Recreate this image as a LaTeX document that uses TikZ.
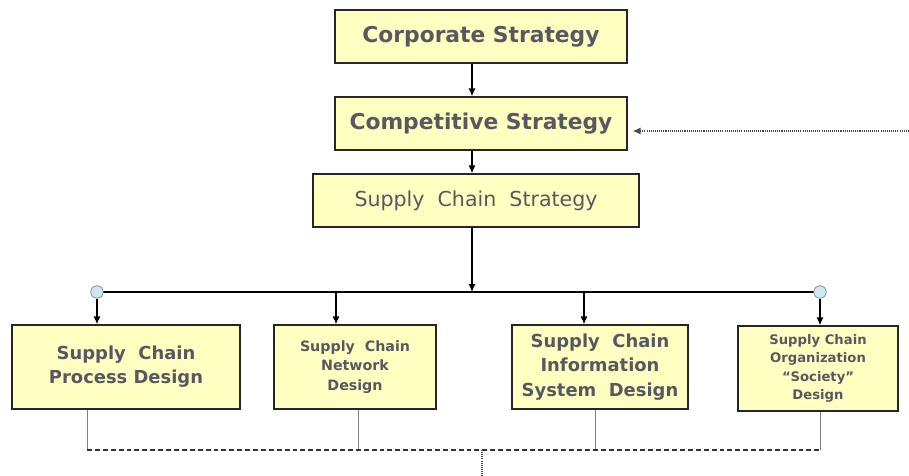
\documentclass[tikz,border=0pt]{standalone}
\usepackage{fontspec}
\setmainfont{DejaVu Sans}
\usetikzlibrary{arrows.meta}
\definecolor{boxyellow}{RGB}{255,255,194}
\definecolor{boxtext}{RGB}{88,88,98}
\definecolor{dotblue}{RGB}{205,232,242}

\begin{document}
\begin{tikzpicture}[x=0.02cm, y=-0.02cm,
    box/.style={draw=black!85, line width=0.8pt, fill=boxyellow, text=boxtext,
        align=center, inner sep=0pt, minimum height=1.68cm},
    arr/.style={-{Latex[length=4.5pt,width=4pt]}, line width=0.7pt},
    dot/.style={circle, draw=gray, fill=dotblue, minimum size=0.25cm, inner sep=0pt},
    link/.style={gray, line width=0.5pt},
    loopback/.style={black!80, line width=0.7pt, dash pattern=on 2.8pt off 1.7pt},
    hint/.style={black!70, line width=0.6pt, dash pattern=on 0.6pt off 0.6pt}]
    \useasboundingbox (0,0) rectangle (909,476);

    % Strategy levels
    \node[box, minimum width=5.84cm, minimum height=1.06cm, font=\fontsize{12.4}{15}\selectfont\bfseries] (corp) at (481,36.5) {Corporate Strategy};
    \node[box, minimum width=5.84cm, minimum height=1.06cm, font=\fontsize{12.4}{15}\selectfont\bfseries] (comp) at (481,123.5) {Competitive Strategy};
    \node[box, minimum width=6.52cm, minimum height=1.06cm, font=\fontsize{11.7}{14}\selectfont] (scs) at (476,200.5) {Supply\ \ Chain\ \ Strategy};

    % Design areas
    \node[box, minimum width=4.56cm, font=\fontsize{10.2}{13.6}\selectfont\bfseries] (pd) at (126,367) {Supply\ \ Chain\\Process Design};
    \node[box, minimum width=3.24cm, font=\fontsize{8.1}{11.3}\selectfont\bfseries] (nd) at (355,367) {Supply\ \ Chain\\Network\\Design};
    \node[box, minimum width=3.52cm, font=\fontsize{10.2}{13.9}\selectfont\bfseries] (isd) at (600,367) {Supply\ \ Chain\\Information\\System\ \ Design};
    \node[box, minimum width=3.2cm, minimum height=1.7cm, font=\fontsize{7.5}{10.5}\selectfont\bfseries] (od) at (818,368.5) {Supply Chain\\Organization\\“Society”\\Design};

    % Distribution bus
    \coordinate (spine) at (472,292);
    \coordinate (t2) at (336,292);
    \coordinate (t3) at (584,292);
    \draw[line width=0.7pt] (97,292) -- (820,292);
    \node[dot] (dl) at (97,292) {};
    \node[dot] (dr) at (820,292) {};

    % Top-down arrows
    \draw[arr] (corp.south -| spine) -- (comp.north -| spine);
    \draw[arr] (comp.south -| spine) -- (scs.north -| spine);
    \draw[arr] (scs.south -| spine) -- (spine);
    \draw[arr] (dl) -- (dl |- pd.north);
    \draw[arr] (t2) -- (t2 |- nd.north);
    \draw[arr] (t3) -- (t3 |- isd.north);
    \draw[arr] (dr) -- (dr |- od.north);

    % Feedback lines
    \coordinate (f1) at (87,450);
    \coordinate (f2) at (358,450);
    \coordinate (f3) at (595,450);
    \coordinate (f4) at (820,450);
    \coordinate (fb) at (482,450);
    \coordinate (fbend) at (482,476);
    \coordinate (fin) at (909,131);
    \foreach \b/\f in {pd/f1, nd/f2, isd/f3, od/f4}
        \draw[link] (\f |- \b.south) -- (\f);
    \draw[loopback] (f1) -- (f4);
    \draw[hint] (fb) -- (fbend);
    \draw[hint, arr, shorten >=2.8pt] (fin) -- (comp.east |- fin);
\end{tikzpicture}
\end{document}
